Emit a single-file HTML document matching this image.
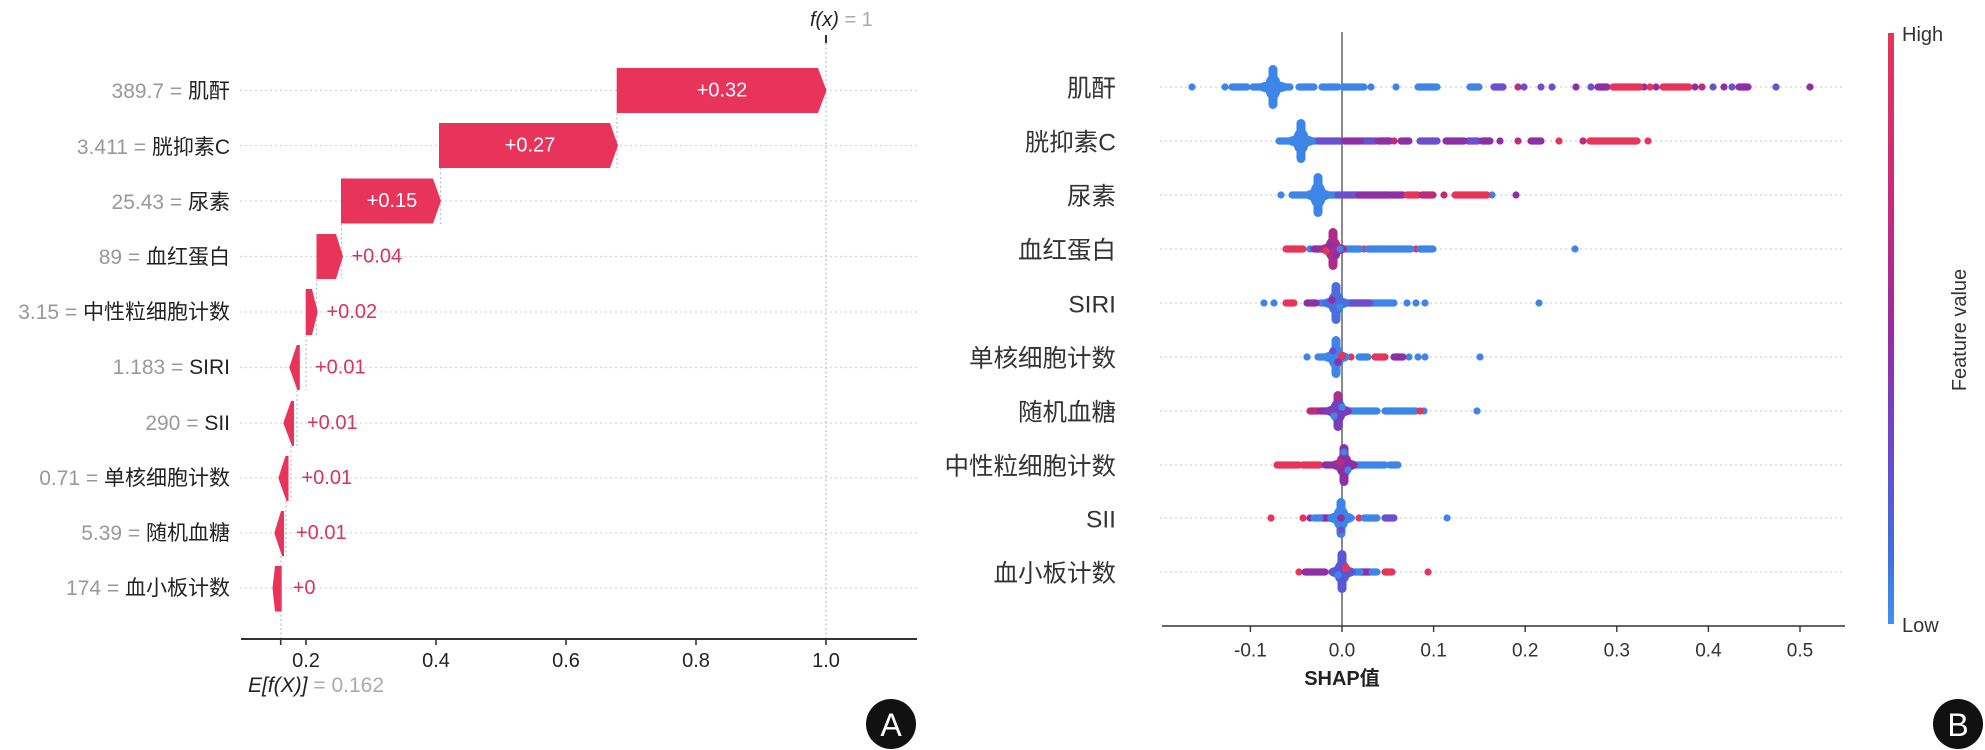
<!DOCTYPE html>
<html><head><meta charset="utf-8">
<style>
html,body{margin:0;padding:0;background:#fff;}
svg{display:block;}
text{font-family:"Liberation Sans","Noto Sans CJK SC",sans-serif;}
</style></head>
<body>
<svg width="1985" height="750" viewBox="0 0 1985 750" xmlns="http://www.w3.org/2000/svg">
<defs>
<linearGradient id="cb" x1="0" y1="0" x2="0" y2="1">
<stop offset="0" stop-color="#ea3258"/>
<stop offset="0.3" stop-color="#c42a80"/>
<stop offset="0.5" stop-color="#9a2aa0"/>
<stop offset="0.7" stop-color="#6a48cc"/>
<stop offset="0.88" stop-color="#3f6fe0"/>
<stop offset="1" stop-color="#3d92f2"/>
</linearGradient>
</defs>
<rect width="1985" height="750" fill="#fff"/>

<!-- ================= PANEL A ================= -->
<g stroke="#d6d6d6" stroke-width="1.2" stroke-dasharray="2,3">
<line x1="240" y1="90.5" x2="917" y2="90.5"/>
<line x1="240" y1="145.5" x2="917" y2="145.5"/>
<line x1="240" y1="201" x2="917" y2="201"/>
<line x1="240" y1="256.5" x2="917" y2="256.5"/>
<line x1="240" y1="312" x2="917" y2="312"/>
<line x1="240" y1="367.5" x2="917" y2="367.5"/>
<line x1="240" y1="423" x2="917" y2="423"/>
<line x1="240" y1="478" x2="917" y2="478"/>
<line x1="240" y1="533" x2="917" y2="533"/>
<line x1="240" y1="588" x2="917" y2="588"/>
</g>
<!-- connectors -->
<g stroke="#bdbdbd" stroke-width="1.2" stroke-dasharray="2,2.5">
<line x1="826" y1="43" x2="826" y2="639"/>
<line x1="617" y1="113" x2="617" y2="168"/>
<line x1="440.5" y1="168" x2="440.5" y2="224"/>
<line x1="341.5" y1="224" x2="341.5" y2="279"/>
<line x1="316.5" y1="279" x2="316.5" y2="335"/>
<line x1="306" y1="335" x2="306" y2="390"/>
<line x1="297" y1="390" x2="297" y2="446"/>
<line x1="291" y1="446" x2="291" y2="501"/>
<line x1="286" y1="501" x2="286" y2="556"/>
<line x1="281" y1="556" x2="281" y2="639"/>
</g>
<line x1="826" y1="35" x2="826" y2="43" stroke="#333" stroke-width="2"/>

<!-- bars -->
<g fill="#e8335a">
<polygon points="616.7,68 818,68 826.5,90.5 818,113 616.7,113"/>
<polygon points="439,123 610,123 618,145.5 610,168 439,168"/>
<polygon points="341,178.5 433,178.5 441,201 433,223.5 341,223.5"/>
<polygon points="316.5,234 336,234 343,256.5 336,279 316.5,279"/>
<polygon points="305.7,289 312,289 317.7,312 312,335 305.7,335"/>
<polygon points="296.7,345 299.8,345 299.8,390 297.3,390 289.3,367.5"/>
<polygon points="291,401 294,401 294,446 292,446 283.3,423"/>
<polygon points="285.5,456 288.5,456 288.5,501 286.5,501 278.3,478"/>
<polygon points="281,511 284,511 284,556 282,556 274.3,533"/>
<polygon points="275,566 281.7,566 281.7,611.5 275,611.5 272.5,588"/>
</g>

<!-- bar labels -->
<g font-size="20" dominant-baseline="central">
<text x="722" y="90.5" fill="#fff" text-anchor="middle">+0.32</text>
<text x="530" y="145.5" fill="#fff" text-anchor="middle">+0.27</text>
<text x="392" y="201" fill="#fff" text-anchor="middle">+0.15</text>
<text x="351.5" y="256.5" fill="#d8335e">+0.04</text>
<text x="326.5" y="312" fill="#d8335e">+0.02</text>
<text x="315" y="367.5" fill="#d8335e">+0.01</text>
<text x="307" y="423" fill="#d8335e">+0.01</text>
<text x="301.5" y="478" fill="#d8335e">+0.01</text>
<text x="296" y="533" fill="#d8335e">+0.01</text>
<text x="292.7" y="588" fill="#d8335e">+0</text>
</g>

<!-- feature labels A -->
<g font-size="21" text-anchor="end" dominant-baseline="central">
<text x="230" y="91"><tspan fill="#999">389.7 = </tspan><tspan fill="#222">肌酐</tspan></text>
<text x="230" y="147"><tspan fill="#999">3.411 = </tspan><tspan fill="#222">胱抑素C</tspan></text>
<text x="230" y="202"><tspan fill="#999">25.43 = </tspan><tspan fill="#222">尿素</tspan></text>
<text x="230" y="257"><tspan fill="#999">89 = </tspan><tspan fill="#222">血红蛋白</tspan></text>
<text x="230" y="312"><tspan fill="#999">3.15 = </tspan><tspan fill="#222">中性粒细胞计数</tspan></text>
<text x="230" y="367"><tspan fill="#999">1.183 = </tspan><tspan fill="#222">SIRI</tspan></text>
<text x="230" y="423"><tspan fill="#999">290 = </tspan><tspan fill="#222">SII</tspan></text>
<text x="230" y="478"><tspan fill="#999">0.71 = </tspan><tspan fill="#222">单核细胞计数</tspan></text>
<text x="230" y="533"><tspan fill="#999">5.39 = </tspan><tspan fill="#222">随机血糖</tspan></text>
<text x="230" y="588"><tspan fill="#999">174 = </tspan><tspan fill="#222">血小板计数</tspan></text>
</g>

<!-- axis A -->
<line x1="241" y1="639" x2="917" y2="639" stroke="#333" stroke-width="2"/>
<g stroke="#333" stroke-width="1.6">
<line x1="280.7" y1="639" x2="280.7" y2="645"/>
<line x1="306" y1="639" x2="306" y2="645"/>
<line x1="436" y1="639" x2="436" y2="645"/>
<line x1="566" y1="639" x2="566" y2="645"/>
<line x1="696" y1="639" x2="696" y2="645"/>
<line x1="826" y1="639" x2="826" y2="645"/>
</g>
<g font-size="20" fill="#222" text-anchor="middle" dominant-baseline="central">
<text x="306" y="661">0.2</text>
<text x="436" y="661">0.4</text>
<text x="566" y="661">0.6</text>
<text x="696" y="661">0.8</text>
<text x="826" y="661">1.0</text>
</g>
<text x="248" y="685" font-size="21" dominant-baseline="central"><tspan fill="#222" font-style="italic">E[f(X)]</tspan><tspan fill="#aaa"> = 0.162</tspan></text>
<text x="810" y="20" font-size="20" dominant-baseline="central"><tspan fill="#222" font-style="italic">f(x)</tspan><tspan fill="#aaa"> = 1</tspan></text>

<!-- A circle -->
<circle cx="891" cy="724" r="25" fill="#111"/>
<text x="891" y="725" font-size="32" fill="#fff" text-anchor="middle" dominant-baseline="central">A</text>

<!-- ================= PANEL B ================= -->
<g stroke="#d2d2d2" stroke-width="1.2" stroke-dasharray="2,3">
<line x1="1160" y1="87" x2="1845" y2="87"/>
<line x1="1160" y1="141" x2="1845" y2="141"/>
<line x1="1160" y1="195" x2="1845" y2="195"/>
<line x1="1160" y1="249" x2="1845" y2="249"/>
<line x1="1160" y1="303" x2="1845" y2="303"/>
<line x1="1160" y1="357" x2="1845" y2="357"/>
<line x1="1160" y1="411" x2="1845" y2="411"/>
<line x1="1160" y1="465" x2="1845" y2="465"/>
<line x1="1160" y1="518" x2="1845" y2="518"/>
<line x1="1160" y1="572" x2="1845" y2="572"/>
</g>
<line x1="1342" y1="32" x2="1342" y2="626" stroke="#8a8a8a" stroke-width="2"/>

<!-- dots -->
<g fill="none" stroke-width="7.2" stroke-linecap="round">
<!-- row1 -->
<path stroke="#3d85e8" d="M1192 87h.01M1225 87h.01M1232 87H1247M1253 87H1264M1279 87H1290M1299 87H1314M1322 87H1338M1343 87H1364M1371 87h.01M1396 87h.01M1418 87H1437M1470 87H1479"/>
<path stroke="#6a4fd0" d="M1494 87H1503M1524 87h.01M1541 87h.01M1552 87h.01M1591 87h.01M1713 87h.01M1732 87h.01M1776 87h.01"/>
<path stroke="#8e2fa6" d="M1576 87h.01M1598 87H1607M1644 87h.01M1656 87h.01M1695 87h.01M1724 87h.01M1739 87H1748M1810 87h.01"/>
<path stroke="#c02a7a" d="M1518 87h.01M1702 87h.01"/>
<path stroke="#e8345a" d="M1613 87H1640M1650 87h.01M1663 87H1689"/>
<!-- row2 -->
<path stroke="#3d85e8" d="M1279 141H1316"/>
<path stroke="#6a4fd0" d="M1318 141H1342M1362 141H1375M1420 141H1437M1468 141H1478"/>
<path stroke="#8e2fa6" d="M1345 141H1360M1378 141H1390M1401 141H1409M1446 141H1464M1482 141H1490M1500 141h.01M1531 141H1541"/>
<path stroke="#c02a7a" d="M1394 141h.01M1518 141h.01M1583 141h.01"/>
<path stroke="#e8345a" d="M1559 141h.01M1590 141H1637M1648 141h.01"/>
<!-- row3 -->
<path stroke="#3d85e8" d="M1281 195h.01M1292 195H1338M1492 195h.01"/>
<path stroke="#6a4fd0" d="M1338 195H1359"/>
<path stroke="#8e2fa6" d="M1359 195H1390M1392 195H1403M1516 195h.01"/>
<path stroke="#e8345a" d="M1407 195H1418M1455 195H1487"/>
<path stroke="#c02a7a" d="M1422 195H1433M1444 195h.01"/>
<!-- row4 -->
<path stroke="#e8345a" d="M1286 249H1303M1364 249h.01M1416 249h.01"/>
<path stroke="#3d85e8" d="M1310 249h.01M1345 249H1360M1368 249H1411M1420 249H1433M1575 249h.01"/>
<path stroke="#8e2fa6" d="M1314 249H1323"/>
<!-- row5 -->
<path stroke="#3d85e8" d="M1264 303h.01M1274 303h.01M1320 303H1329M1342 303H1394M1407 303h.01M1416 303h.01M1425 303h.01M1539 303h.01"/>
<path stroke="#e8345a" d="M1286 303H1294"/>
<path stroke="#8e2fa6" d="M1307 303H1316"/>
<path stroke="#6a4fd0" d="M1350 303H1370"/>
<!-- row6 -->
<path stroke="#3d85e8" d="M1307 357h.01M1318 357H1327M1359 357H1368M1409 357h.01M1418 357h.01M1425 357h.01M1480 357h.01"/>
<path stroke="#e8345a" d="M1351 357h.01M1375 357H1385"/>
<path stroke="#8e2fa6" d="M1394 357H1403"/>
<!-- row7 -->
<path stroke="#c02a7a" d="M1310 411H1318"/>
<path stroke="#8e2fa6" d="M1320 411H1333"/>
<path stroke="#3d85e8" d="M1346 411H1377M1385 411H1416M1424 411h.01M1477 411h.01"/>
<path stroke="#e8345a" d="M1420 411h.01"/>
<!-- row8 -->
<path stroke="#e8345a" d="M1277 465H1299M1303 465H1320"/>
<path stroke="#8e2fa6" d="M1325 465H1333"/>
<path stroke="#3d85e8" d="M1351 465H1385M1390 465H1398"/>
<!-- row9 -->
<path stroke="#e8345a" d="M1271 518h.01M1303 518h.01M1359 518h.01"/>
<path stroke="#8e2fa6" d="M1310 518h.01M1322 518H1333"/>
<path stroke="#3d85e8" d="M1314 518H1320M1364 518H1377M1447 518h.01"/>
<path stroke="#6a4fd0" d="M1385 518H1394"/>
<!-- row10 -->
<path stroke="#e8345a" d="M1299 572h.01M1385 572H1392M1428 572h.01"/>
<path stroke="#8e2fa6" d="M1305 572H1325M1360 572H1370"/>
<path stroke="#3d85e8" d="M1333 572h.01M1351 572H1360M1372 572H1377"/>
</g>

<!-- clusters -->
<g fill="#3d85e8">
<rect x="1268.5" y="65" width="9" height="44" rx="4.5"/><ellipse cx="1273" cy="87" rx="8" ry="13"/><ellipse cx="1273" cy="87" rx="16" ry="6"/>
</g>
<g fill="#3d85e8">
<rect x="1296.5" y="119" width="9" height="44" rx="4.5"/><ellipse cx="1301" cy="141" rx="8" ry="13"/><ellipse cx="1301" cy="141" rx="15" ry="6"/>
</g>
<g fill="#3d85e8">
<rect x="1313.5" y="173" width="9" height="44" rx="4.5"/><ellipse cx="1318" cy="195" rx="8" ry="13"/><ellipse cx="1318" cy="195" rx="14" ry="6"/>
</g>
<g fill="#b02a88">
<rect x="1328.5" y="228" width="9" height="42" rx="4.5"/><ellipse cx="1333" cy="249" rx="8" ry="12"/><ellipse cx="1333" cy="249" rx="14" ry="6"/>
</g>
<circle cx="1330" cy="245" r="4" fill="#8e2fa6"/><circle cx="1336" cy="255" r="4" fill="#8e2fa6"/><circle cx="1340" cy="249" r="3.6" fill="#3d85e8"/><circle cx="1326" cy="251" r="3.6" fill="#e8345a"/>
<g fill="#4a6fdc">
<rect x="1331.5" y="282" width="9" height="42" rx="4.5"/><ellipse cx="1336" cy="303" rx="8" ry="12"/><ellipse cx="1336" cy="303" rx="14" ry="6"/>
</g>
<circle cx="1332" cy="300" r="3.8" fill="#8e2fa6"/><circle cx="1340" cy="307" r="3.8" fill="#3d85e8"/>
<g fill="#3d85e8">
<rect x="1331.5" y="336" width="9" height="42" rx="4.5"/><ellipse cx="1336" cy="357" rx="8" ry="12"/><ellipse cx="1336" cy="357" rx="14" ry="6"/>
</g>
<circle cx="1342" cy="356" r="4" fill="#e8345a"/><circle cx="1338" cy="362" r="3.8" fill="#8e2fa6"/><circle cx="1333" cy="351" r="3.6" fill="#6a4fd0"/>
<g fill="#7a3cbc">
<rect x="1333.5" y="391" width="9" height="40" rx="4.5"/><ellipse cx="1338" cy="411" rx="8" ry="12"/><ellipse cx="1338" cy="411" rx="14" ry="6"/>
</g>
<circle cx="1342" cy="407" r="3.8" fill="#3d85e8"/><circle cx="1334" cy="416" r="3.8" fill="#3d85e8"/><circle cx="1338" cy="396" r="3.6" fill="#c02a7a"/>
<g fill="#8e2fa6">
<rect x="1339.5" y="444" width="9" height="42" rx="4.5"/><ellipse cx="1344" cy="465" rx="8" ry="12"/><ellipse cx="1344" cy="465" rx="14" ry="6"/>
</g>
<circle cx="1340" cy="462" r="3.8" fill="#c02a7a"/><circle cx="1348" cy="470" r="3.6" fill="#3d85e8"/><circle cx="1344" cy="452" r="3.6" fill="#3d85e8"/>
<g fill="#3d85e8">
<rect x="1336.5" y="498" width="9" height="40" rx="4.5"/><ellipse cx="1341" cy="518" rx="8" ry="12"/><ellipse cx="1341" cy="518" rx="14" ry="6"/>
</g>
<circle cx="1341" cy="518" r="3.8" fill="#8e2fa6"/><circle cx="1341" cy="530" r="3.6" fill="#6a4fd0"/>
<g fill="#5a56d4">
<rect x="1337.5" y="550" width="9" height="43" rx="4.5"/><ellipse cx="1342" cy="572" rx="8" ry="12"/><ellipse cx="1342" cy="572" rx="14" ry="6"/>
</g>
<circle cx="1346" cy="568" r="4" fill="#e8345a"/><circle cx="1338" cy="575" r="3.8" fill="#3d85e8"/>

<!-- feature labels B -->
<g font-size="24.5" fill="#333" text-anchor="end" dominant-baseline="central">
<text x="1116" y="89">肌酐</text>
<text x="1116" y="143">胱抑素C</text>
<text x="1116" y="197">尿素</text>
<text x="1116" y="251">血红蛋白</text>
<text x="1116" y="305">SIRI</text>
<text x="1116" y="359">单核细胞计数</text>
<text x="1116" y="413">随机血糖</text>
<text x="1116" y="467">中性粒细胞计数</text>
<text x="1116" y="520">SII</text>
<text x="1116" y="574">血小板计数</text>
</g>

<!-- axis B -->
<line x1="1162" y1="626" x2="1845" y2="626" stroke="#333" stroke-width="1.6"/>
<g stroke="#333" stroke-width="1.4">
<line x1="1250.4" y1="626" x2="1250.4" y2="632"/>
<line x1="1342" y1="626" x2="1342" y2="632"/>
<line x1="1433.6" y1="626" x2="1433.6" y2="632"/>
<line x1="1525.2" y1="626" x2="1525.2" y2="632"/>
<line x1="1616.8" y1="626" x2="1616.8" y2="632"/>
<line x1="1708.4" y1="626" x2="1708.4" y2="632"/>
<line x1="1800" y1="626" x2="1800" y2="632"/>
</g>
<g font-size="19" fill="#333" text-anchor="middle" dominant-baseline="central">
<text x="1250.4" y="651">-0.1</text>
<text x="1342" y="651">0.0</text>
<text x="1433.6" y="651">0.1</text>
<text x="1525.2" y="651">0.2</text>
<text x="1616.8" y="651">0.3</text>
<text x="1708.4" y="651">0.4</text>
<text x="1800" y="651">0.5</text>
</g>
<text x="1342" y="679" font-size="20" font-weight="bold" fill="#222" text-anchor="middle" dominant-baseline="central">SHAP值</text>

<!-- colorbar -->
<rect x="1888" y="33" width="6" height="591" fill="url(#cb)"/>
<text x="1902" y="35" font-size="20" fill="#333" dominant-baseline="central">High</text>
<text x="1902" y="626" font-size="20" fill="#333" dominant-baseline="central">Low</text>
<text x="1960" y="330" font-size="20" fill="#333" text-anchor="middle" dominant-baseline="central" transform="rotate(-90 1960 330)">Feature value</text>

<!-- B circle -->
<circle cx="1958" cy="724" r="25" fill="#111"/>
<text x="1958" y="725" font-size="32" fill="#fff" text-anchor="middle" dominant-baseline="central">B</text>
</svg>
</body></html>
